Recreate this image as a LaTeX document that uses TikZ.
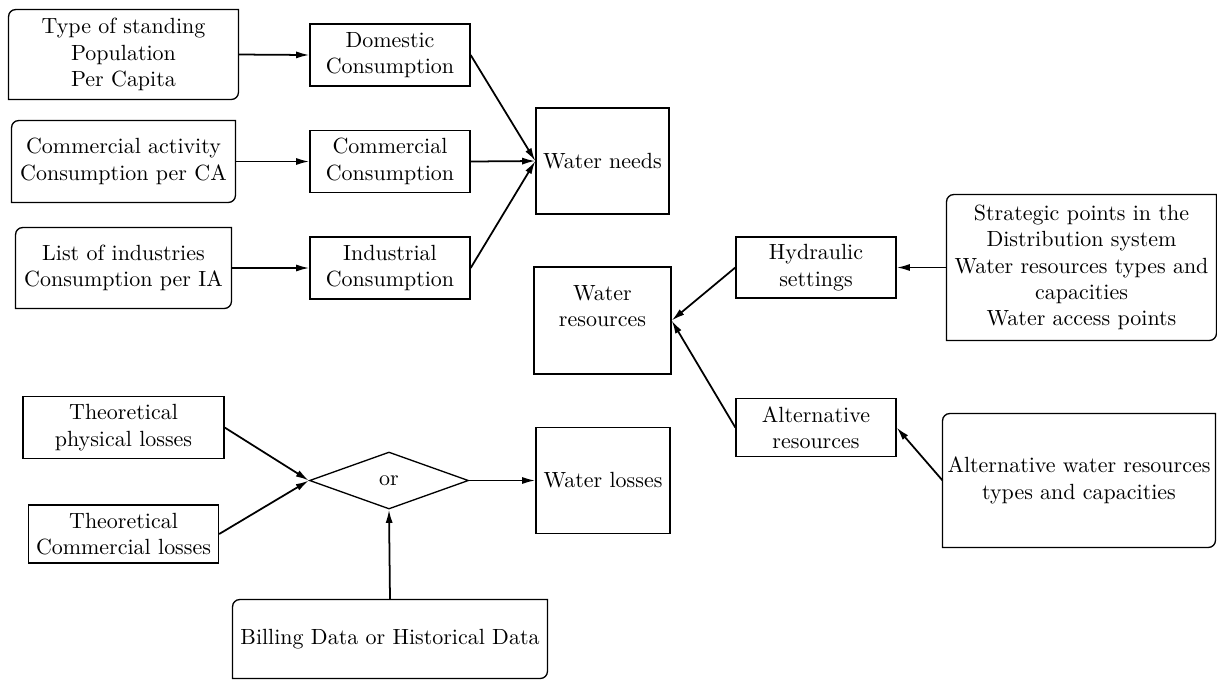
\documentclass[tikz,border=0pt]{standalone}
\usepackage{amsmath,amssymb}
\usepackage{tikz}
\usetikzlibrary{shapes.geometric,arrows.meta,positioning}

\newcommand{\px}{0.455pt}
\newcommand{\rad}{3.2pt}
% frame with two rounded corners (top left, bottom right)
\newcommand{\cornerframe}[1]{%
  \draw[semithick] ([yshift=-\rad]#1.north west) arc[start angle=180, end angle=90, radius=\rad]
    -- (#1.north east) -- ([yshift=\rad]#1.south east)
    arc[start angle=0, end angle=-90, radius=\rad] -- (#1.south west) -- cycle;}

\begin{document}
\begin{tikzpicture}[x=\px, y=-\px, >={Latex[length=6pt,width=3.2pt]},
  box/.style={draw, semithick, rectangle, align=center, inner sep=2pt},
  cbox/.style={rectangle, align=center, inner sep=2pt},
  gate/.style={draw, semithick, diamond, aspect=2.8, inner sep=0pt},
  link/.style={->, thick}]

\useasboundingbox (0,0) rectangle (1217,680);

% Input data
\node[cbox, minimum width=229*\px, minimum height=89*\px] (T1) at (123.5,54.5) {Type of standing\\Population\\Per Capita};
\node[cbox, minimum width=223*\px, minimum height=81*\px] (T2) at (123.5,161.5) {Commercial activity\\Consumption per CA};
\node[cbox, minimum width=215*\px, minimum height=80*\px] (T3) at (123.5,268) {List of industries\\Consumption per IA};
\cornerframe{T1}
\cornerframe{T2}
\cornerframe{T3}

% Consumptions
\node[box, minimum width=160*\px, minimum height=62*\px] (Dom) at (390,55) {Domestic\\Consumption};
\node[box, minimum width=160*\px, minimum height=62*\px] (Com) at (390,161.5) {Commercial\\Consumption};
\node[box, minimum width=160*\px, minimum height=62*\px] (Ind) at (390,268) {Industrial\\Consumption};

% Results
\node[box, minimum width=133*\px, minimum height=106*\px] (Need) at (602.5,161) {Water needs};
\node[box, minimum width=137*\px, minimum height=107*\px, text depth=13pt] (Res) at (602.5,320.5) {Water\\resources};
\node[box, minimum width=134*\px, minimum height=106*\px] (Loss) at (603,480.5) {Water losses};

% Losses
\node[box, minimum width=201*\px, minimum height=62*\px] (Phy) at (123.5,427.5) {Theoretical\\physical losses};
\node[box, minimum width=190*\px, minimum height=58*\px] (Cml) at (123.5,534) {Theoretical\\Commercial losses};
\node[gate, minimum width=159*\px, minimum height=57*\px] (Or) at (389,480.5) {or};
\node[cbox, minimum width=314*\px, minimum height=78*\px] (Bill) at (390,639) {Billing Data or Historical Data};
\cornerframe{Bill}

% Resources
\node[box, minimum width=160*\px, minimum height=61*\px] (Hyd) at (816,267.5) {Hydraulic\\settings};
\node[box, minimum width=160*\px, minimum height=58*\px] (Alt) at (816,427.5) {Alternative\\resources};
\node[cbox, minimum width=269*\px, minimum height=145*\px] (Str) at (1081.5,267.5) {Strategic points in the\\Distribution system\\Water resources types and\\capacities\\Water access points};
\node[cbox, minimum width=272*\px, minimum height=133*\px] (Awr) at (1079,480.5) {Alternative water resources\\types and capacities};
\cornerframe{Str}
\cornerframe{Awr}

% Arcs
\draw[link] (T1.east) -- (Dom.west);
\draw[link] (T2.east) -- (Com.west);
\draw[link] (T3.east) -- (Ind.west);
\draw[link] (Dom.east) -- (Need.west);
\draw[link] (Com.east) -- (Need.west);
\draw[link] (Ind.east) -- (Need.west);
\draw[link] (Phy.east) -- (Or.west);
\draw[link] (Cml.east) -- (Or.west);
\draw[link] (Bill.north) -- (Or.south);
\draw[link] (Or.east) -- (Loss.west);
\draw[link] (Str.west) -- (Hyd.east);
\draw[link] (Awr.west) -- (Alt.east);
\draw[link] (Hyd.west) -- (Res.east);
\draw[link] (Alt.west) -- (Res.east);

\end{tikzpicture}
\end{document}
